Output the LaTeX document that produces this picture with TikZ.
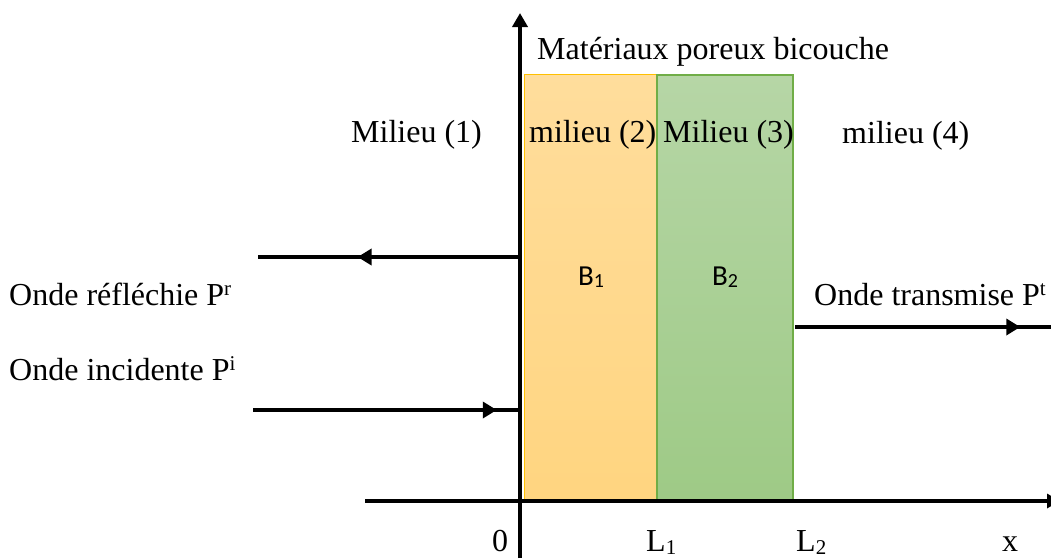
\documentclass[tikz,border=0pt]{standalone}
\usepackage{fontspec}
\setmainfont{Liberation Serif}
\newfontfamily\carlito{Carlito}
\usetikzlibrary{arrows.meta,decorations.markings}
\newcommand{\supx}[1]{\raisebox{10pt}{\fontsize{21}{21}\selectfont #1}}
\newcommand{\subx}[1]{\raisebox{-3pt}{\fontsize{21}{21}\selectfont #1}}
\newcommand{\subb}[1]{\raisebox{-2pt}{\fontsize{20}{20}\selectfont #1}}
\definecolor{orTop}{HTML}{FFDD9C}
\definecolor{orBot}{HTML}{FFD580}
\definecolor{orLine}{HTML}{FFC000}
\definecolor{grTop}{HTML}{B6D6A6}
\definecolor{grBot}{HTML}{9ECA86}
\definecolor{grLine}{HTML}{70AD47}
\begin{document}
\begin{tikzpicture}[x=1pt,y=-1pt,
  lbl/.style={inner sep=0pt,anchor=base west,font=\fontsize{32}{38}\selectfont},
  blbl/.style={inner sep=0pt,anchor=base,font=\carlito\fontsize{29}{34}\selectfont},
  layerA/.style={draw=orLine,line width=1pt,top color=orTop,bottom color=orBot,inner sep=0pt,anchor=north west,minimum width=132pt,minimum height=425pt},
  layerB/.style={draw=grLine,line width=1.5pt,top color=grTop,bottom color=grBot,inner sep=0pt,anchor=north west,minimum width=136pt,minimum height=425pt},
  axisline/.style={line width=4pt,-{Triangle[length=14pt,width=15pt]}},
  waveline/.style={line width=3.5pt},
  midarrow/.style={postaction={decorate,decoration={markings,mark=at position #1 with {\arrow{Triangle[length=14pt,width=16pt]}}}}}
]
\useasboundingbox (0,0) rectangle (1051,558);

% layers
\node[layerA] (b1) at (524,74) {};
\node[layerB] (b2) at (656,74) {};

% axes
\coordinate (ybot) at (520,558);
\coordinate (ytop) at (520,13);
\coordinate (xleft) at (365,501);
\coordinate (xright) at (1060,501);
\draw[axisline] (ybot) -- (ytop);
\draw[line width=3.5pt,-{Triangle[length=13pt,width=14pt]}] (xleft) -- (xright);

% waves
\coordinate (r0) at (520,257);
\coordinate (r1) at (258,257);
\draw[waveline,midarrow=0.62] (r0) -- (r1);
\coordinate (i0) at (253,410);
\coordinate (i1) at (518,410);
\draw[waveline,midarrow=0.92] (i0) -- (i1);
\coordinate (t0) at (795,327);
\coordinate (t1) at (1051,327);
\draw[waveline,midarrow=0.88] (t0) -- (t1);

% labels
\node[lbl] (title) at (537,59) {Matériaux poreux bicouche};
\node[lbl] (m1) at (351,142) {Milieu (1)};
\node[lbl] (m2) at (529,142) {milieu (2)};
\node[lbl] (m3) at (663,142) {Milieu (3)};
\node[lbl] (m4) at (842,143) {milieu (4)};
\node[blbl] (lb1) at (591,285) {B\subb{1}};
\node[blbl] (lb2) at (725,285) {B\subb{2}};
\node[lbl] (wr) at (9,305) {Onde réfléchie P\supx{r}};
\node[lbl] (wi) at (9,380) {Onde incidente P\supx{i}};
\node[lbl] (wt) at (814,305) {Onde transmise P\supx{t}};
\node[lbl] (o) at (492,551) {0};
\node[lbl] (l1) at (646,551) {L\subx{1}};
\node[lbl] (l2) at (796,551) {L\subx{2}};
\node[lbl] (xl) at (1002,551) {x};
\end{tikzpicture}
\end{document}
